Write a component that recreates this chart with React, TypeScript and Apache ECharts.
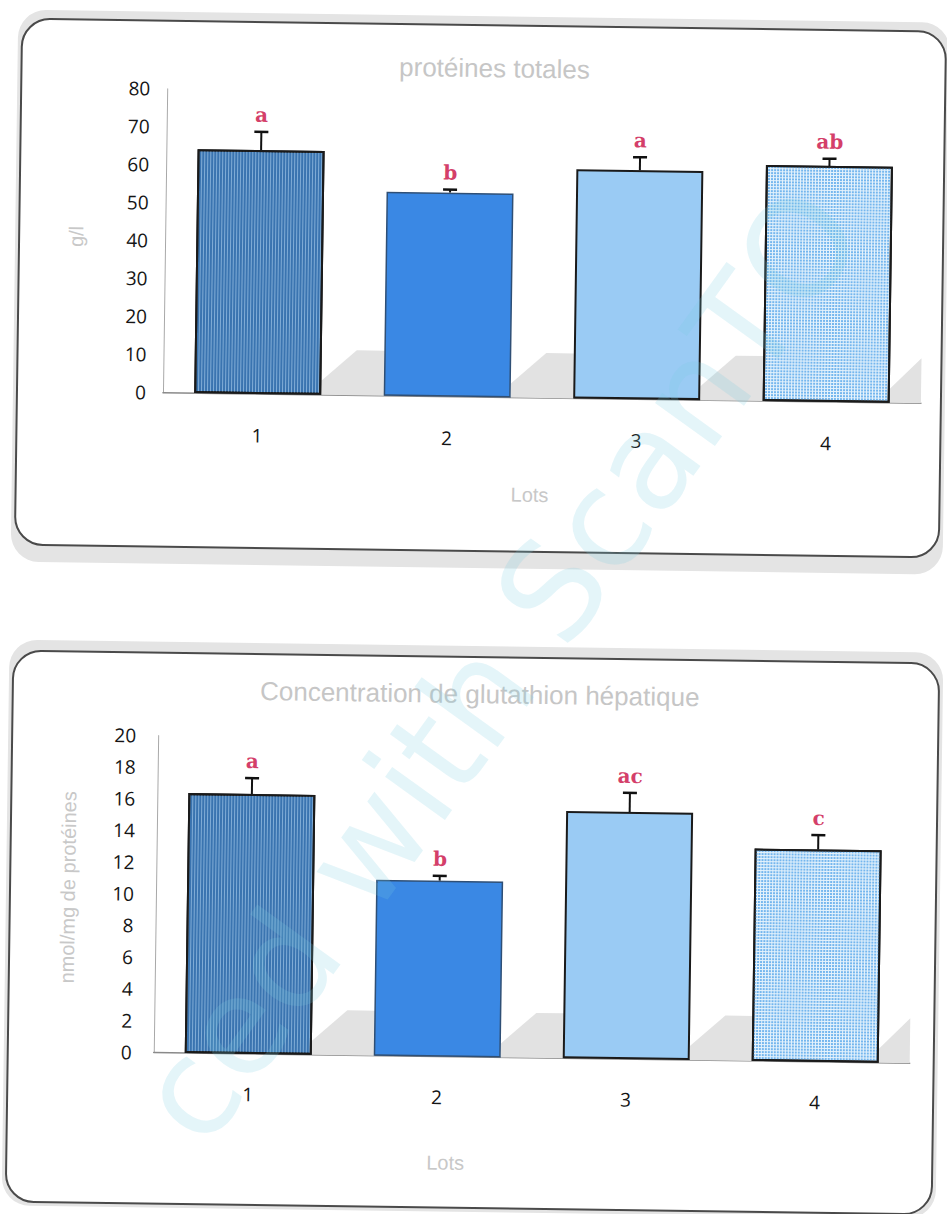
import React, { useEffect, useRef } from "react";
import * as echarts from "echarts";

// ---- data ----
const lots = ["1", "2", "3", "4"];

const proteinTitle = "protéines totales";
const proteinUnit = "g/l";
const proteinMeans = [64.2, 53.7, 60.3, 62.1];
const proteinErrTops = [69, 54.5, 63.7, 64];
const proteinLetters = ["a", "b", "a", "ab"];

const gshTitle = "Concentration de glutathion hépatique";
const gshUnit = "nmol/mg de protéines";
const gshMeans = [16.4, 11.1, 15.6, 13.4];
const gshErrTops = [17.4, 11.4, 16.8, 14.3];
const gshLetters = ["a", "b", "ac", "c"];

const xName = "Lots";
const watermark = "ced with ScanTO";

// ---- styles ----
const barStyles = [
  {
    color: "#3a74b0",
    borderColor: "#1a1a1a",
    borderWidth: 2,
    decal: { symbol: "rect", symbolSize: 1, color: "rgba(175,210,240,0.6)", dashArrayX: [1, 2], dashArrayY: [4, 0] },
  },
  { color: "#3a88e4", borderColor: "#2f4f75", borderWidth: 1.5 },
  { color: "#9acbf4", borderColor: "#1a1a1a", borderWidth: 2 },
  {
    color: "#e6f3fc",
    borderColor: "#1a1a1a",
    borderWidth: 2,
    decal: { symbol: "rect", symbolSize: 1, color: "#74b6ee", dashArrayX: [2, 1], dashArrayY: [2, 1] },
  },
];

const BAR_W = 127;
const tickFont = { fontFamily: "Open Sans", fontSize: 19, color: "#151515" };

function makeShadow(gi: number) {
  return {
    type: "custom",
    xAxisIndex: gi,
    yAxisIndex: gi,
    z: 1,
    silent: true,
    data: lots.map((_, i) => [i, 0]),
    renderItem: (params: any, api: any) => {
      const i = api.value(0);
      const base = api.coord([i, 0]);
      const cs = params.coordSys;
      const r = base[0] + BAR_W / 2;
      const ext = Math.min(63, cs.x + cs.width - r);
      const h = 45;
      return {
        type: "polygon",
        shape: {
          points: [
            [r, base[1]],
            [r, base[1] - 14],
            [r + Math.min(35, ext), base[1] - h],
            [r + ext, base[1] - h],
            [r + ext, base[1]],
          ],
        },
        style: { fill: "#e2e2e2" },
      };
    },
  };
}

function makeErr(gi: number, means: number[], tops: number[], letters: string[]) {
  return {
    type: "custom",
    xAxisIndex: gi,
    yAxisIndex: gi,
    z: 5,
    silent: true,
    data: lots.map((_, i) => [i, tops[i], means[i]]),
    renderItem: (params: any, api: any) => {
      const i = api.value(0);
      const p = api.coord([i, api.value(1)]);
      const m = api.coord([i, api.value(2)]);
      return {
        type: "group",
        children: [
          { type: "line", shape: { x1: p[0], y1: m[1], x2: p[0], y2: p[1] }, style: { stroke: "#111", lineWidth: 2 } },
          { type: "line", shape: { x1: p[0] - 7, y1: p[1], x2: p[0] + 7, y2: p[1] }, style: { stroke: "#111", lineWidth: 2.5 } },
          {
            type: "text",
            x: p[0],
            y: p[1] - 7,
            style: {
              text: letters[params.dataIndex],
              fill: "#d43f6a",
              font: 'bold 20px "DejaVu Serif"',
              textAlign: "center",
              textVerticalAlign: "bottom",
            },
          },
        ],
      };
    },
  };
}

export default function App() {
  const ref = useRef<HTMLDivElement>(null);
  useEffect(() => {
    if (!ref.current) return;
    const chart = echarts.init(ref.current, undefined, { renderer: "svg" });
    const yAxisBase = {
      type: "value",
      min: 0,
      axisLine: { show: true, lineStyle: { color: "#a8a8a8", width: 1 } },
      axisTick: { show: false },
      splitLine: { show: false },
    };
    const xAxisBase = {
      type: "category",
      data: lots,
      axisLine: { show: true, lineStyle: { color: "#8a8a8a", width: 1.5 } },
      axisTick: { show: false },
    };
    chart.setOption({
      animation: false,
      title: [
        {
          text: proteinTitle,
          left: 482,
          top: 50,
          textAlign: "center",
          textStyle: { fontFamily: "Liberation Sans", fontSize: 26, fontWeight: "normal", color: "#c6c6c6" },
        },
        {
          text: gshTitle,
          left: 476,
          top: 676,
          textAlign: "center",
          textStyle: { fontFamily: "Liberation Sans", fontSize: 26, fontWeight: "normal", color: "#c6c6c6" },
        },
      ],
      grid: [
        { left: 160, right: 29, top: 93, height: 304 },
        { left: 160, right: 31, top: 740, height: 317 },
      ],
      xAxis: [
        { ...xAxisBase, gridIndex: 0, axisLabel: { ...tickFont, margin: 32 } },
        { ...xAxisBase, gridIndex: 1, axisLabel: { ...tickFont, margin: 31 } },
      ],
      yAxis: [
        { ...yAxisBase, gridIndex: 0, max: 80, interval: 10, axisLabel: { ...tickFont, margin: 17 } },
        { ...yAxisBase, gridIndex: 1, max: 20, interval: 2, axisLabel: { ...tickFont, margin: 22 } },
      ],
      graphic: [
        { type: "rect", z: -10, shape: { x: 10, y: 16, width: 932, height: 552, r: 28 }, style: { fill: "#e4e4e4" } },
        { type: "rect", z: -9, shape: { x: 14, y: 25, width: 924, height: 526, r: 28 }, style: { fill: "#fff", stroke: "#4a4a4a", lineWidth: 2 } },
        { type: "rect", z: -10, shape: { x: 10, y: 646, width: 934, height: 566, r: 28 }, style: { fill: "#e4e4e4" } },
        { type: "rect", z: -9, shape: { x: 14, y: 657, width: 926, height: 551, r: 28 }, style: { fill: "#fff", stroke: "#4a4a4a", lineWidth: 2 } },
        { type: "text", x: 528, y: 494, style: { text: xName, fill: "#c8c8c8", font: '20px "Liberation Sans"', textAlign: "center", textVerticalAlign: "middle" } },
        { type: "text", x: 453, y: 1163, style: { text: xName, fill: "#c8c8c8", font: '20px "Liberation Sans"', textAlign: "center", textVerticalAlign: "middle" } },
        { type: "text", x: 71, y: 242, rotation: Math.PI / 2, style: { text: proteinUnit, fill: "#c8c8c8", font: '20px "Liberation Sans"', textAlign: "center", textVerticalAlign: "middle" } },
        { type: "text", x: 72, y: 893, rotation: Math.PI / 2, style: { text: gshUnit, fill: "#c8c8c8", font: '20px "Liberation Sans"', textAlign: "center", textVerticalAlign: "middle" } },
        {
          type: "text",
          x: 500,
          y: 665,
          z: 100,
          rotation: (55 * Math.PI) / 180,
          silent: true,
          style: { text: watermark, fill: "rgba(120,205,225,0.2)", font: '135px "DejaVu Sans"', textAlign: "center", textVerticalAlign: "middle" },
        },
      ],
      series: [
        makeShadow(0),
        makeShadow(1),
        {
          type: "bar",
          xAxisIndex: 0,
          yAxisIndex: 0,
          z: 2,
          barWidth: BAR_W,
          data: proteinMeans.map((v, i) => ({ value: v, itemStyle: barStyles[i] })),
        },
        {
          type: "bar",
          xAxisIndex: 1,
          yAxisIndex: 1,
          z: 2,
          barWidth: BAR_W,
          data: gshMeans.map((v, i) => ({ value: v, itemStyle: barStyles[i] })),
        },
        makeErr(0, proteinMeans, proteinErrTops, proteinLetters),
        makeErr(1, gshMeans, gshErrTops, gshLetters),
      ],
    });
    return () => chart.dispose();
  }, []);
  return (
    <div
      ref={ref}
      style={{
        position: "absolute",
        left: 0,
        top: 0,
        width: 947,
        height: 1214,
        transform: "rotate(0.8deg)",
        transformOrigin: "473px 607px",
      }}
    />
  );
}
